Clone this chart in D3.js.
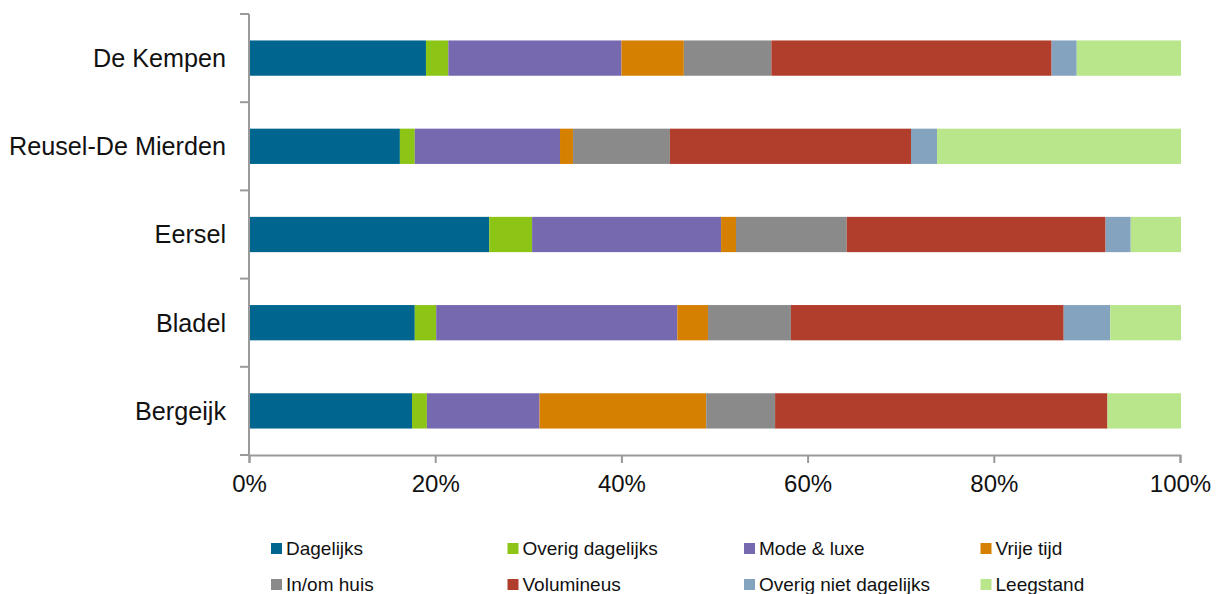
<!DOCTYPE html>
<html>
<head>
<meta charset="utf-8">
<script src="https://cdn.jsdelivr.net/npm/d3@7"></script>
<style>
  body { margin: 0; background: #fff; }
  svg { display: block; font-family: "Liberation Sans", Arial, sans-serif; }
</style>
</head>
<body>
<svg id="chart" width="1217" height="594"></svg>
<script>
"use strict";

// Gemeenten, van boven naar beneden
const gemeenten = ["De Kempen", "Reusel-De Mierden", "Eersel", "Bladel", "Bergeijk"];

// Branchegroepen (legend volgorde)
const branches = ["Dagelijks", "Overig dagelijks", "Mode & luxe", "Vrije tijd",
                  "In/om huis", "Volumineus", "Overig niet dagelijks", "Leegstand"];

const kleuren = ["#006690", "#8cc516", "#7769b0", "#d58000",
                 "#8a8a8a", "#b13e2c", "#84a3bf", "#b9e68a"];

// Aandeel per branche (%) per gemeente
const dagelijks          = [18.9, 16.1, 25.7, 17.7, 17.4];
const overigDagelijks    = [2.4, 1.6, 4.6, 2.3, 1.6];
const modeLuxe           = [18.6, 15.6, 20.3, 25.9, 12.1];
const vrijeTijd          = [6.7, 1.4, 1.6, 3.3, 17.9];
const inOmHuis           = [9.4, 10.4, 11.9, 8.9, 7.4];
const volumineus         = [30.1, 25.9, 27.8, 29.3, 35.7];
const overigNietDagelijks = [2.7, 2.8, 2.7, 5.0, 0.0];
const leegstand          = [11.2, 26.2, 5.4, 7.6, 7.9];

const xTicks = [0, 0.2, 0.4, 0.6, 0.8, 1.0];

const series = [dagelijks, overigDagelijks, modeLuxe, vrijeTijd,
                inOmHuis, volumineus, overigNietDagelijks, leegstand];

const rows = gemeenten.map((g, i) => {
    const row = { gemeente: g };
    branches.forEach((b, j) => { row[b] = series[j][i]; });
    return row;
});

const svg = d3.select("#chart");
const margin = { left: 249, right: 37, top: 14, bottom: 139 };
const width = 1217 - margin.left - margin.right;
const height = 594 - margin.top - margin.bottom;

const g = svg.append("g").attr("transform", `translate(${margin.left},${margin.top})`);

const stack = d3.stack().keys(branches).offset(d3.stackOffsetExpand);
const layers = stack(rows);

const x = d3.scaleLinear().domain([0, 1]).range([0, width]);
const y = d3.scaleBand().domain(gemeenten).range([0, height]).paddingInner(0.6).paddingOuter(0.3);
const color = d3.scaleOrdinal().domain(branches).range(kleuren);

// bars
g.selectAll("g.layer")
    .data(layers)
    .enter().append("g")
    .attr("class", "layer")
    .attr("fill", d => color(d.key))
    .selectAll("rect")
    .data(d => d)
    .enter().append("rect")
    .attr("x", d => x(d[0]) + 1)
    .attr("y", d => y(d.data.gemeente))
    .attr("width", d => Math.max(0, x(d[1]) - x(d[0])))
    .attr("height", y.bandwidth());

// y axis: ticks between the categories
const axisColor = "#9a9a9a";
const step = height / gemeenten.length;
g.append("line")
    .attr("x1", 0).attr("x2", 0)
    .attr("y1", 0).attr("y2", height)
    .attr("stroke", axisColor).attr("stroke-width", 2);
g.selectAll("line.ytick")
    .data(d3.range(gemeenten.length + 1))
    .enter().append("line")
    .attr("class", "ytick")
    .attr("x1", -9).attr("x2", 0)
    .attr("y1", i => i * step).attr("y2", i => i * step)
    .attr("stroke", axisColor).attr("stroke-width", 2);

g.selectAll("text.cat")
    .data(gemeenten)
    .enter().append("text")
    .attr("class", "cat")
    .attr("x", -23)
    .attr("y", d => y(d) + y.bandwidth() / 2)
    .attr("dy", "0.35em")
    .attr("text-anchor", "end")
    .style("font-size", "25.2px")
    .style("fill", "#111")
    .text(d => d);

// x axis
const xAxis = g.append("g")
    .attr("transform", `translate(0,${height})`)
    .call(d3.axisBottom(x).tickValues(xTicks).tickFormat(d3.format(".0%")).tickSize(8).tickPadding(12));
xAxis.select(".domain").attr("stroke", axisColor).attr("stroke-width", 2);
xAxis.selectAll(".tick line").attr("stroke", axisColor).attr("stroke-width", 2);
xAxis.selectAll(".tick text")
    .style("font-size", "24px")
    .style("font-family", "'Liberation Sans', Arial, sans-serif")
    .attr("fill", "#111");

// legend
const legend = svg.append("g").attr("transform", "translate(271,543)");
const item = legend.selectAll("g.item")
    .data(branches)
    .enter().append("g")
    .attr("class", "item")
    .attr("transform", (d, i) => `translate(${(i % 4) * 236.5},${Math.floor(i / 4) * 36})`);
item.append("rect")
    .attr("width", 11).attr("height", 11)
    .attr("fill", d => color(d));
item.append("text")
    .attr("x", 15)
    .attr("y", 5.5)
    .attr("dy", "0.36em")
    .style("font-size", "19px")
    .style("fill", "#111")
    .text(d => d);
</script>
</body>
</html>
